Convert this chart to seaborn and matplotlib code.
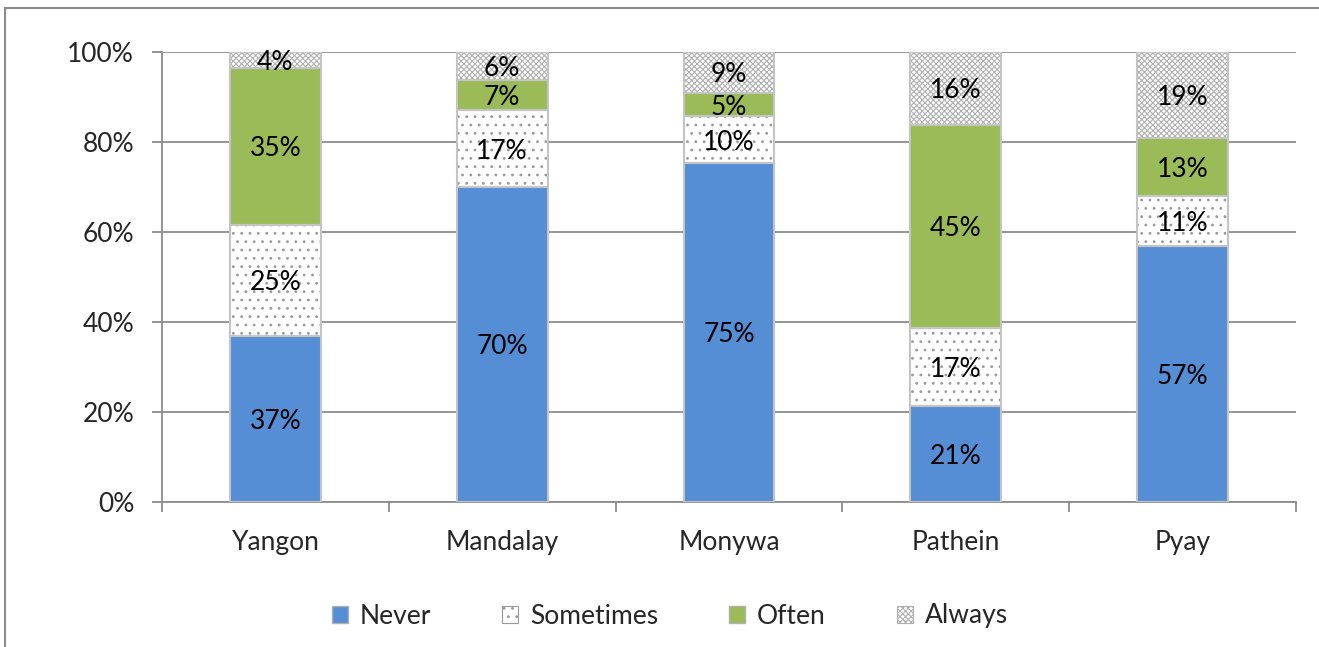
import matplotlib
matplotlib.use("Agg")
import matplotlib.pyplot as plt
import numpy as np
import pandas as pd
import seaborn as sns
from matplotlib.patches import Patch, Rectangle

# Share of respondents per city (percent)
cities = ["Yangon", "Mandalay", "Monywa", "Pathein", "Pyay"]
never = [36.9, 70.0, 75.4, 21.3, 56.9]
sometimes = [24.7, 17.1, 10.3, 17.4, 11.1]
often = [34.8, 6.7, 5.2, 45.1, 12.9]
always = [3.6, 6.2, 9.1, 16.2, 19.1]
categories = ["Never", "Sometimes", "Often", "Always"]

sns.set_theme(style="white")
plt.rcParams["font.family"] = ["Lato", "DejaVu Sans"]
plt.rcParams["hatch.linewidth"] = 0.8

FS = 19
GRID = "#8C8C8C"
OUTLINE = "#C4C4C4"

styles = {
    "Never": dict(face="#558ED5", hatch=None, hatch_col=None),
    "Sometimes": dict(face="white", hatch="..", hatch_col="#9A9A9A"),
    "Often": dict(face="#9BBB59", hatch=None, hatch_col=None),
    "Always": dict(face="white", hatch="xxxxxx", hatch_col="#B0B0B0"),
}

values = {"Never": never, "Sometimes": sometimes, "Often": often, "Always": always}
df = pd.DataFrame({"city": cities, **values})
cum = df[categories].cumsum(axis=1)

fig = plt.figure(figsize=(13.19, 6.47), dpi=100)
ax = fig.add_axes([162 / 1319, 1 - 502 / 647, (1296 - 162) / 1319, (502 - 52) / 647])

# stacked bars: draw the cumulative totals from top segment down
for cat in reversed(categories):
    st = styles[cat]
    n_before = len(ax.patches)
    sns.barplot(data=pd.DataFrame({"city": cities, "top": cum[cat]}),
                x="city", y="top", order=cities, color=st["face"],
                width=0.4, saturation=1, ax=ax, zorder=3)
    for p in ax.patches[n_before:]:
        p.set_facecolor(st["face"])
        if st["hatch"]:
            p.set_hatch(st["hatch"])
            p.set_edgecolor(st["hatch_col"])
        else:
            p.set_edgecolor(OUTLINE)
        p.set_linewidth(0)

# light outlines around each segment, with centred value labels
bottoms = np.zeros(len(cities))
for cat in categories:
    v = np.array(values[cat])
    ax.bar(np.arange(len(cities)), v, bottom=bottoms, width=0.4,
           facecolor="none", edgecolor=OUTLINE, linewidth=1.5, zorder=4)
    for i, (b, h) in enumerate(zip(bottoms, v)):
        ax.text(i, b + h / 2, f"{h:.0f}%", ha="center", va="center_baseline",
                fontsize=FS, color="black", zorder=5)
    bottoms += v

ax.set_xlim(-0.5, len(cities) - 0.5)
ax.set_ylim(0, 100)
ax.set_yticks(np.arange(0, 101, 20))
ax.set_yticklabels([f"{t}%" for t in range(0, 101, 20)])
ax.set_xlabel("")
ax.set_ylabel("")
ax.set_xticks(np.arange(len(cities)))
ax.set_xticklabels(cities)
ax.set_xticks(np.arange(-0.5, len(cities), 1.0), minor=True)

ax.grid(axis="y", color=GRID, linewidth=1.3, zorder=0)
ax.set_axisbelow(True)
for side in ["top", "right"]:
    ax.spines[side].set_visible(False)
for side in ["left", "bottom"]:
    ax.spines[side].set_color(GRID)
    ax.spines[side].set_linewidth(1.3)

ax.tick_params(axis="y", which="major", length=7, width=1.3, color=GRID,
               labelsize=FS, pad=13, left=True, direction="out")
ax.tick_params(axis="x", which="major", length=0, labelsize=FS, pad=20)
ax.tick_params(axis="x", which="minor", length=7, width=1.3, color=GRID,
               bottom=True, direction="out")

handles = []
for cat in categories:
    st = styles[cat]
    if st["hatch"]:
        handles.append(Patch(facecolor="white", edgecolor=st["hatch_col"],
                             hatch=st["hatch"], linewidth=0.8, label=cat))
    else:
        handles.append(Patch(facecolor=st["face"], edgecolor="#B0B0B0",
                             linewidth=1.0, label=cat))
fig.legend(handles=handles, loc="center", bbox_to_anchor=(0.508, 1 - 616 / 647),
           ncol=4, frameon=False, fontsize=FS, handlelength=0.6,
           handleheight=0.6, handletextpad=0.45, columnspacing=2.7)

# outer chart frame
fig.patches.append(Rectangle((5 / 1319, -0.1), 1.2, 1 - 8 / 647 + 0.1,
                             transform=fig.transFigure, fill=False,
                             edgecolor=GRID, linewidth=1.5, clip_on=False))

fig.savefig("out.png", dpi=100)
